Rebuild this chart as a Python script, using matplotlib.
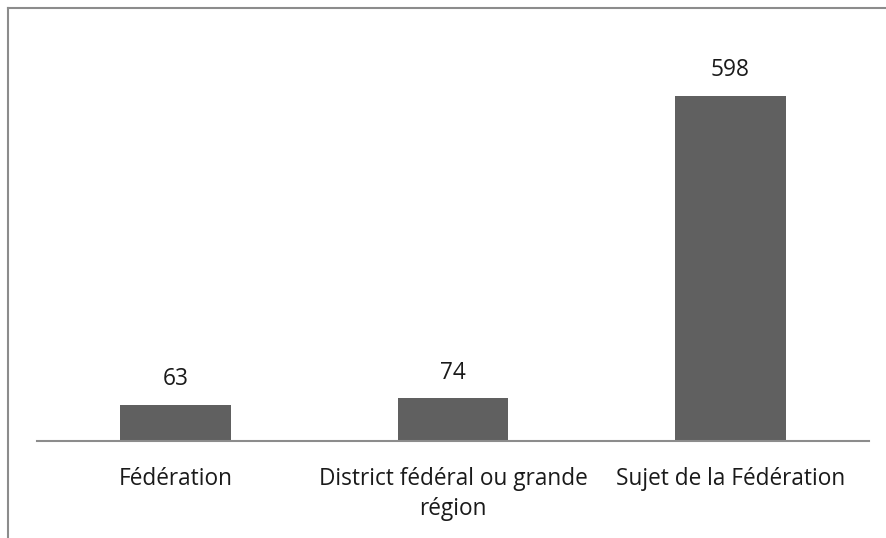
import matplotlib
matplotlib.use("Agg")
import matplotlib.pyplot as plt
from matplotlib.lines import Line2D

categories = ["Fédération", "District fédéral ou grande\nrégion", "Sujet de la Fédération"]
values = [63, 74, 598]

W, H = 887, 538
fig = plt.figure(figsize=(W / 100, H / 100), dpi=100)
plt.rcParams["font.family"] = ["Open Sans", "DejaVu Sans"]

# axes placed in pixel coords: x 37..869, y 37..441 (from top)
ax = fig.add_axes([37 / W, 1 - 441 / H, (869 - 37) / W, (441 - 37) / H])
x = list(range(len(categories)))
bars = ax.bar(x, values, width=0.4, color="#606060")
ax.set_xlim(-0.5, 2.5)
ax.set_ylim(0, 700)

for spine in ("top", "right", "left"):
    ax.spines[spine].set_visible(False)
ax.spines["bottom"].set_color("#8c8c8c")
ax.spines["bottom"].set_linewidth(1.5)
ax.set_yticks([])
ax.set_xticks(x)
ax.set_xticklabels(categories, fontsize=16.3, color="#1a1a1a", linespacing=1.3)
ax.tick_params(axis="x", length=0, pad=19)

for rect, v in zip(bars, values):
    ax.annotate(str(v), (rect.get_x() + rect.get_width() / 2, v),
                xytext=(0, 14), textcoords="offset points",
                ha="center", va="baseline", fontsize=16.3, color="#1a1a1a")

# outer frame (only left and top visible in the crop)
fig.add_artist(Line2D([8 / W, 8 / W], [0, 1 - 8 / H], color="#8c8c8c", lw=1.5))
fig.add_artist(Line2D([8 / W, 1], [1 - 8 / H, 1 - 8 / H], color="#8c8c8c", lw=1.5))

fig.savefig("out.png", dpi=100)
